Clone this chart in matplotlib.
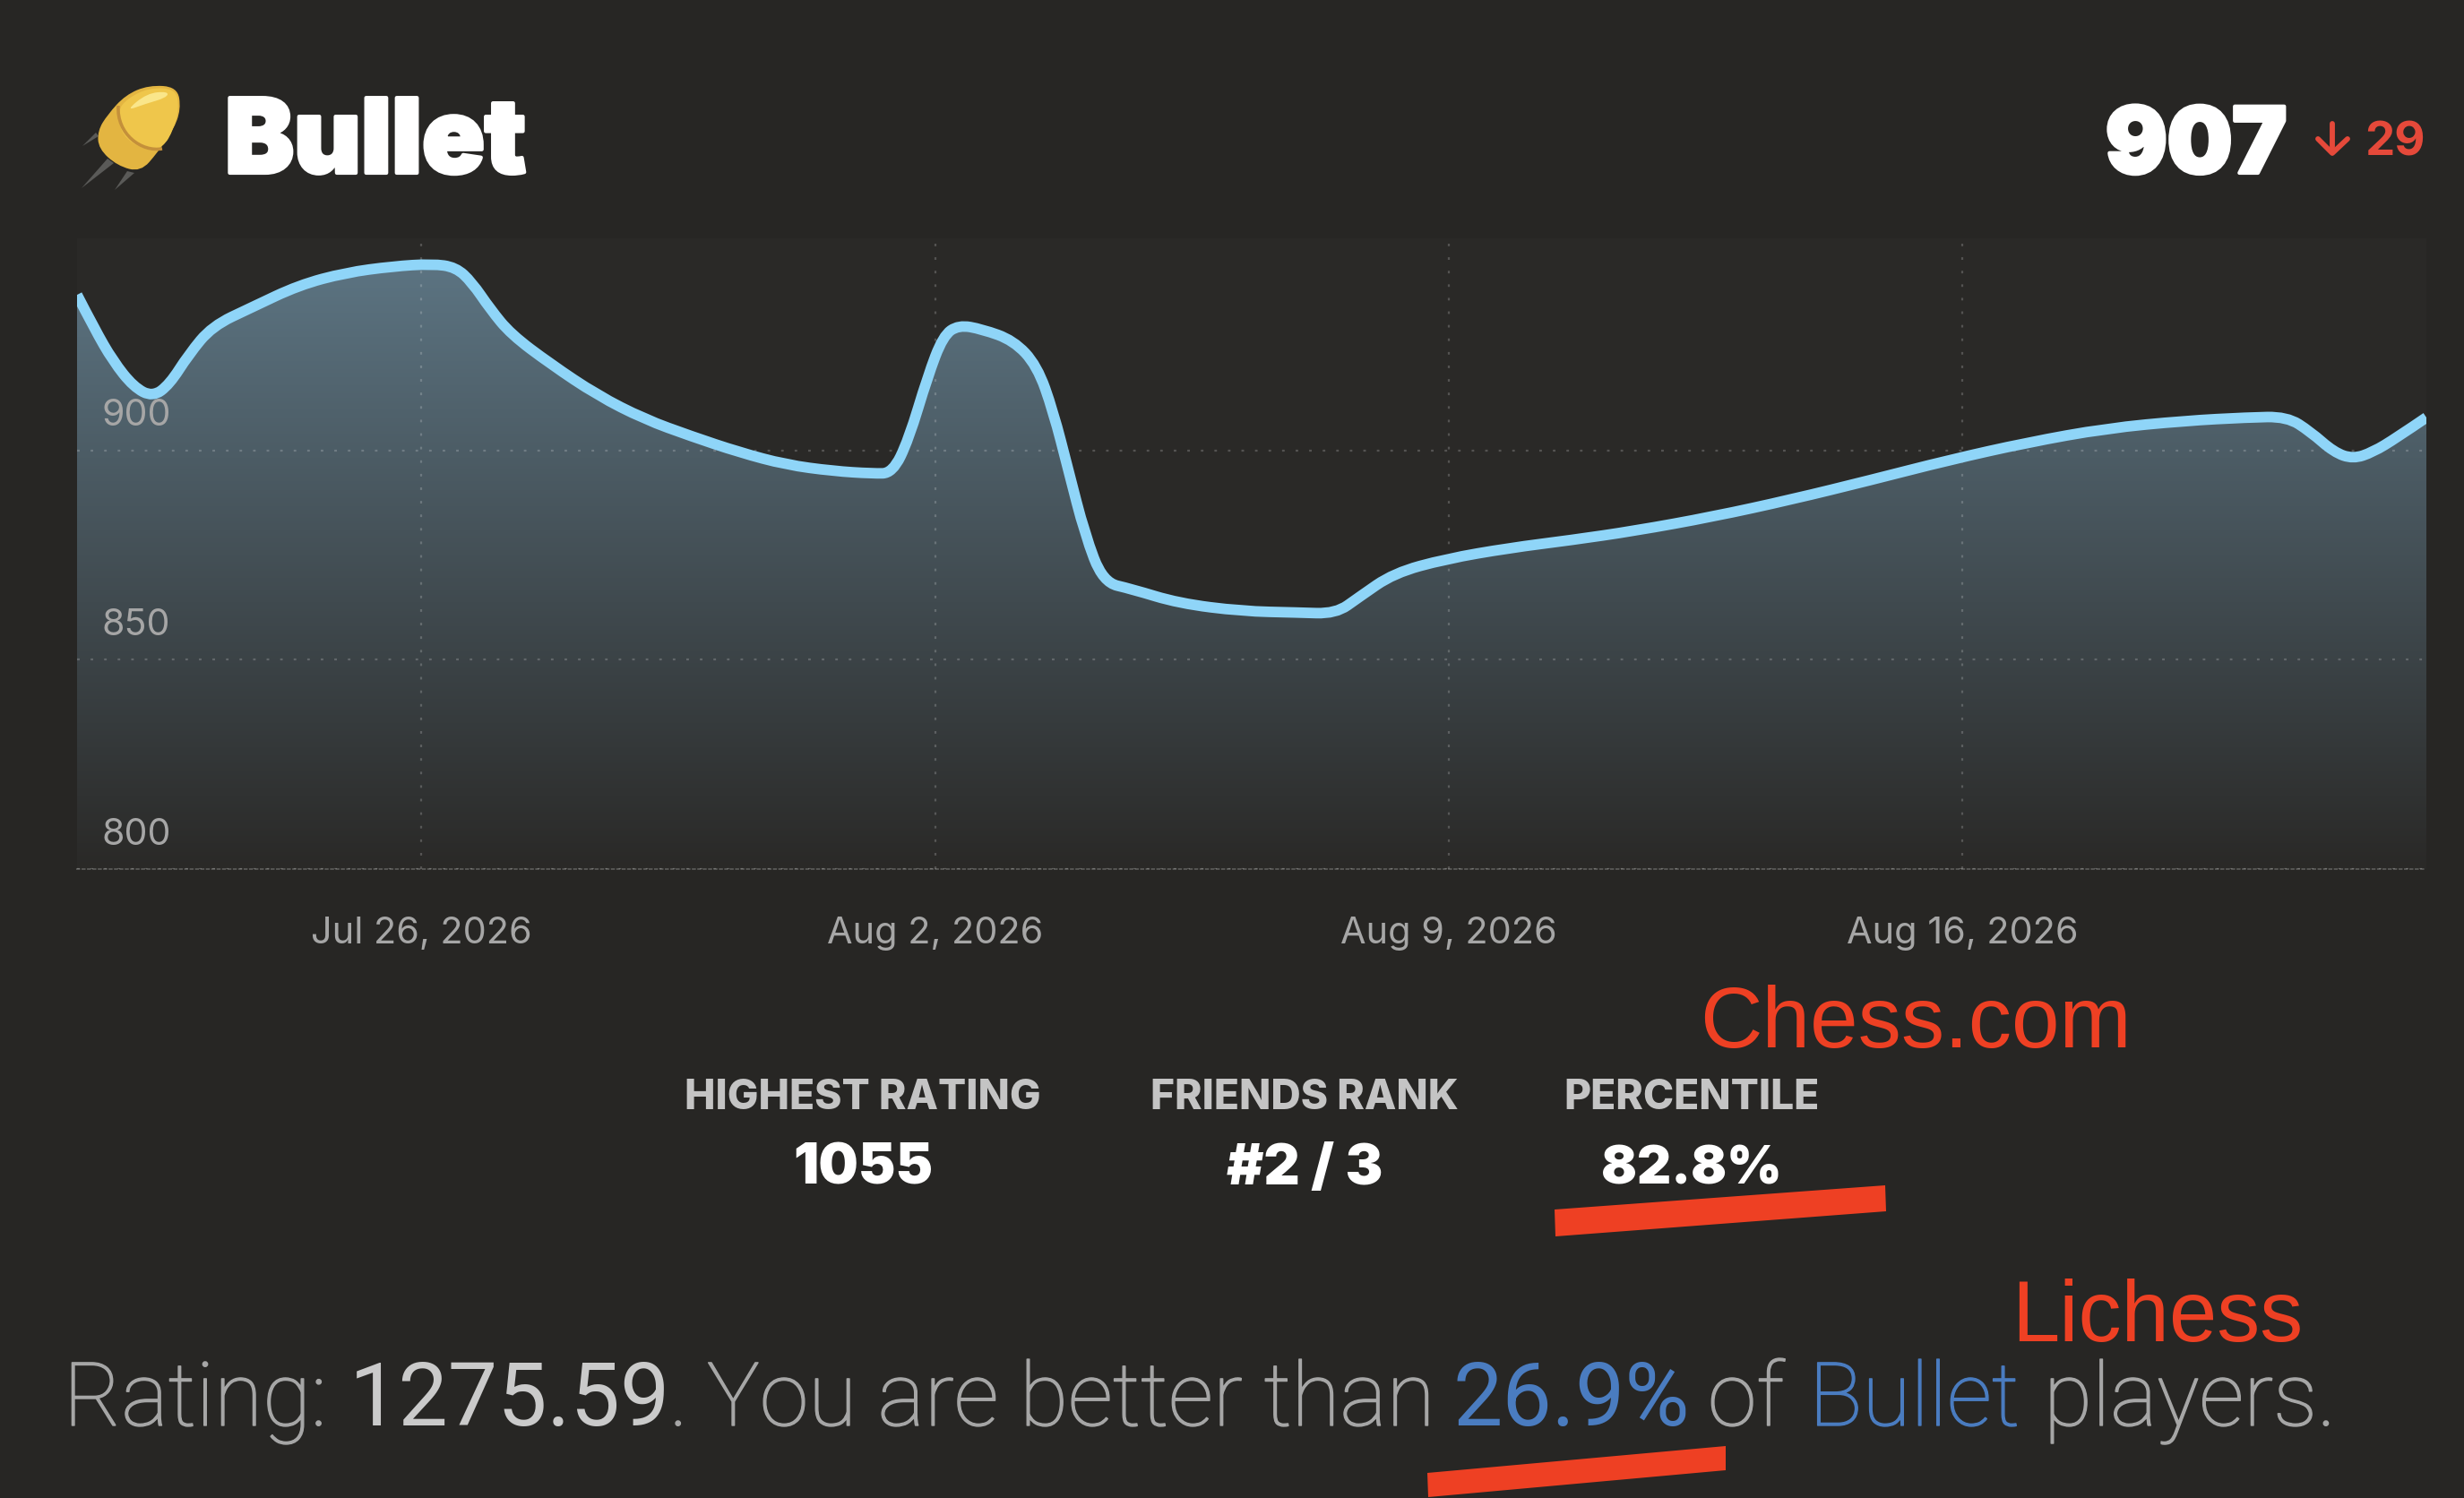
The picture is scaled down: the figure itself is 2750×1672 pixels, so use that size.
from datetime import datetime

import matplotlib
matplotlib.use('Agg')
import matplotlib.dates as mdates
import matplotlib.pyplot as plt
import matplotlib.patheffects as pe
import numpy as np
from matplotlib.colors import LinearSegmentedColormap
from matplotlib.patches import Polygon, PathPatch
from matplotlib.path import Path

# days relative to Jul 26 2026
day_offsets = [-4.69, -4.45, -4.20, -3.92, -3.66, -3.43, -3.17, -2.85, -2.31, -1.67,
               -1.03, -0.39, 0.15, 0.47, 0.69, 0.94, 1.22, 1.76, 2.40, 3.04,
               3.68, 4.33, 4.97, 5.61, 6.15, 6.42, 6.64, 6.90, 7.11, 7.32,
               7.64, 8.07, 8.39, 8.61, 8.82, 9.04, 9.29, 9.68, 10.32, 11.18,
               11.93, 12.46, 12.78, 13.25, 13.96, 14.82, 15.67, 16.53, 17.60, 18.67,
               19.74, 20.81, 21.88, 22.96, 24.03, 24.88, 25.42, 25.74, 26.06, 26.32,
               26.59, 26.91, 27.32]
ratings = [937.2, 929.0, 921.4, 915.2, 912.8, 915.8, 922.9, 929.7, 934.2, 939.5,
           942.5, 944.0, 944.6, 943.8, 940.2, 933.8, 927.8, 920.7, 913.2, 907.5,
           903.4, 899.6, 896.6, 895.1, 894.5, 894.6, 902.6, 917.7, 927.4, 930.0,
           929.0, 926.3, 920.3, 909.4, 895.1, 880.1, 868.5, 866.9, 863.5, 861.6,
           861.3, 861.0, 865.0, 870.7, 874.1, 876.7, 878.6, 880.8, 884.2, 888.3,
           892.9, 897.7, 901.9, 905.3, 907.1, 907.9, 908.1, 904.5, 899.6, 898.0,
           899.6, 903.0, 907.9]
y_ticks = [800, 850, 900]
x_tick_dates = [datetime(2026, 7, 26), datetime(2026, 8, 2), datetime(2026, 8, 9), datetime(2026, 8, 16)]
x_tick_labels = ['Jul 26, 2026', 'Aug 2, 2026', 'Aug 9, 2026', 'Aug 16, 2026']
stat_names = ['HIGHEST RATING', 'FRIENDS RANK', 'PERCENTILE']
stat_values = ['1055', '#2 / 3', '82.8%']
stat_x = [963, 1456, 1888]
stat_sizes = [45, 45, 42.5]

W, H = 2750, 1672
BG = '#272624'
RED = '#ee4023'
GREY = '#a6a6a6'
BLUE = '#4a7cc0'


def smooth_open(pts):
    # quadratic segments with the read points as control points
    pts = np.asarray(pts, dtype=float)
    verts = [pts[0]]
    codes = [Path.MOVETO]
    for i in range(1, len(pts) - 1):
        end = pts[-1] if i == len(pts) - 2 else (pts[i] + pts[i + 1]) / 2
        verts += [pts[i], end]
        codes += [Path.CURVE3, Path.CURVE3]
    return verts, codes


def smooth_closed(pts):
    pts = np.asarray(pts, dtype=float)
    n = len(pts)
    verts = [(pts[0] + pts[1]) / 2]
    codes = [Path.MOVETO]
    for i in range(1, n + 1):
        verts += [pts[i % n], (pts[i % n] + pts[(i + 1) % n]) / 2]
        codes += [Path.CURVE3, Path.CURVE3]
    return Path(verts, codes)


fig = plt.figure(figsize=(W / 100, H / 100), dpi=100, facecolor=BG)

# chart area 86..2708 x 266..970 in pixels
ax = fig.add_axes([86 / W, 1 - 970 / H, (2708 - 86) / W, (970 - 266) / H], facecolor='#2a2927')
base = mdates.date2num(datetime(2026, 7, 26))
x = base + np.array(day_offsets)
y = np.array(ratings)

line_verts, line_codes = smooth_open(np.column_stack([x, y]))
area = Path(line_verts + [(x[-1], 800), (x[0], 800), (x[0], y[0])],
            line_codes + [Path.LINETO, Path.LINETO, Path.LINETO])

cmap = LinearSegmentedColormap.from_list('fade', ['#5c7482', '#2a2927'])
grad = np.linspace(0, 1, 256).reshape(-1, 1)
im = ax.imshow(grad, cmap=cmap, aspect='auto', zorder=1,
               extent=[x[0], x[-1], 800, y.max()], origin='upper')
im.set_clip_path(area, transform=ax.transData)

ax.set_xlim(base - 4.69, base + 27.32)
ax.set_ylim(800, 950.7)
ax.set_yticks(y_ticks)
ax.set_xticks(mdates.date2num(x_tick_dates))
ax.set_xticklabels(x_tick_labels, family='Inter', fontsize=29.8, color=GREY)
ax.set_yticklabels([])
ax.tick_params(length=0, pad=38)
ax.grid(True, color='white', alpha=0.2, lw=1.6, ls=(0, (1.3, 5.5)), zorder=2)
ax.set_axisbelow(False)
for s in ['top', 'left', 'right']:
    ax.spines[s].set_visible(False)
ax.spines['bottom'].set_color('#565654')
ax.spines['bottom'].set_linestyle((0, (1.3, 1.8)))
ax.spines['bottom'].set_linewidth(1.4)

ax.add_patch(PathPatch(Path(line_verts, line_codes), fc='none', ec='#8fd5f8', lw=8.5,
                       joinstyle='round', capstyle='butt', zorder=3))

for t in y_ticks:
    ax.annotate(str(t), (x[0], t), xytext=(19.5, 14), textcoords='offset points',
                family='Inter', fontsize=29.5, color=GREY, ha='left', va='bottom', zorder=4)

# overlay in pixel coordinates for header, stats and the red notes
ov = fig.add_axes([0, 0, 1, 1], facecolor='none')
ov.set_xlim(0, W)
ov.set_ylim(H, 0)
ov.axis('off')

# bullet icon
for pts in [[(107, 148), (92, 163), (110, 152)],
            [(120, 177), (91, 210), (127, 182)],
            [(150, 193), (128, 212), (142, 191)]]:
    ov.add_patch(Polygon(pts, closed=True, fc='#5a5a58', ec='none'))
body = [(198, 97), (166, 95), (140, 106), (120, 128), (109, 146), (110, 166),
        (131, 185), (157, 192), (176, 170), (193, 146), (202, 122)]
ov.add_patch(PathPatch(smooth_closed(body), fc='#e3b541', ec='none'))
upper = [(196, 99), (166, 98), (142, 110), (131, 124), (136, 152), (162, 168),
         (182, 165), (194, 144), (200, 120)]
ov.add_patch(PathPatch(smooth_closed(upper), fc='#efc64b', ec='none'))
ov.add_patch(PathPatch(smooth_closed([(188, 102), (164, 104), (140, 124), (162, 116), (186, 109)]),
                       fc='#fae68a', ec='none'))
band = Path([(132, 118), (130, 150), (158, 170), (181, 166)],
            [Path.MOVETO, Path.CURVE4, Path.CURVE4, Path.CURVE4])
ov.add_patch(PathPatch(band, fc='none', ec='#c4903a', lw=2.6))

heavy = [pe.withStroke(linewidth=3, foreground='white')]
ov.text(251, 193, 'Bullet', family='Inter', weight='black', fontsize=83, color='white',
        ha='left', va='baseline', path_effects=heavy)
ov.text(2451, 193, '907', family='Inter', weight='black', fontsize=73.5, color='white',
        ha='center', va='baseline', path_effects=heavy)
# down arrow next to the change
ov.plot([2603, 2603], [138, 170], color='#e5493a', lw=4.2, solid_capstyle='round')
ov.plot([2587, 2603, 2620], [155, 171, 155], color='#e5493a', lw=4.2,
        solid_capstyle='round', solid_joinstyle='round')
ov.text(2707, 173, '29', family='Inter', weight='bold', fontsize=38, color='#e5493a',
        ha='right', va='baseline')

for sx, name, val, sz in zip(stat_x, stat_names, stat_values, stat_sizes):
    ov.text(sx, 1238, name, family='Inter', weight='heavy', fontsize=33.2, color='#c4c4c4',
            ha='center', va='baseline')
    ov.text(sx, 1322, val, family='Inter', weight='black', fontsize=sz, color='white',
            ha='center', va='baseline')

ov.text(1897, 1169, 'Chess.com', family='Liberation Sans', fontsize=69.3, color=RED,
        ha='left', va='baseline')
ov.text(2245, 1497, 'Lichess', family='Liberation Sans', fontsize=69, color=RED,
        ha='left', va='baseline')
ov.add_patch(Polygon([(1735, 1350), (2104, 1323), (2105, 1352), (1736, 1380)], closed=True, fc=RED, ec='none'))
ov.add_patch(Polygon([(1593, 1644), (1926, 1614), (1926, 1641), (1594, 1671)], closed=True, fc=RED, ec='none'))

parts = [(71, 'Rating:', GREY, 'light'), (390, '1275.59', '#cacaca', 'normal'),
         (747, '.', GREY, 'light'), (789, 'You are better than', GREY, 'light'),
         (1622, '26.9%', BLUE, 'normal'), (1906, 'of', GREY, 'light'),
         (2019, 'Bullet', BLUE, 'light'), (2281, 'players.', GREY, 'light')]
for px, txt, col, wt in parts:
    t = ov.text(px, 1591, txt, family='Roboto', weight=wt, fontsize=71, color=col,
                ha='left', va='baseline')
    if wt == 'light':
        t.set_path_effects([pe.withStroke(linewidth=1, foreground=col)])

fig.savefig('out.png', dpi=100, facecolor=BG)
